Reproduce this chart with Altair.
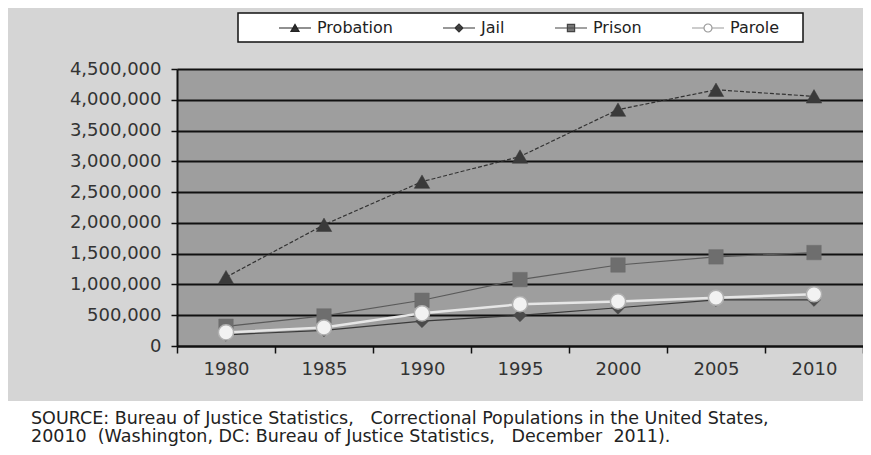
import altair as alt
import pandas as pd

# ---- data ----
years = ["1980", "1985", "1990", "1995", "2000", "2005", "2010"]
series_names = ["Probation", "Jail", "Prison", "Parole"]
probation = [1118000, 1969000, 2670000, 3078000, 3840000, 4162000, 4056000]
jail = [182000, 255000, 403000, 499000, 621000, 748000, 749000]
prison = [320000, 488000, 743000, 1079000, 1316000, 1448000, 1518000]
parole = [220000, 300000, 531000, 679000, 724000, 784000, 841000]
y_ticks = [0, 500000, 1000000, 1500000, 2000000, 2500000, 3000000, 3500000, 4000000, 4500000]
NB = "\u00a0"
source_text = ("SOURCE: Bureau of Justice Statistics," + NB * 3 + "Correctional Populations in the United States,\n"
               "20010" + NB * 2 + "(Washington, DC: Bureau of Justice Statistics," + NB * 3 + "December" + NB * 2 + "2011).")

rows = []
for name, vals in zip(series_names, [probation, jail, prison, parole]):
    for yr, v in zip(years, vals):
        rows.append({"year": yr, "series": name, "value": v})
df = pd.DataFrame(rows)

W, H = 686, 277
FONT = "DejaVu Sans"

x_enc = alt.X("year:O", sort=years,
              scale=alt.Scale(type="band", domain=years, paddingInner=0, paddingOuter=0),
              axis=alt.Axis(title=None, labelAngle=0, tickBand="extent", grid=False,
                            domainColor="#111", domainWidth=2, tickColor="#111", tickWidth=1.5,
                            tickSize=7, labelFont=FONT, labelFontSize=18, labelColor="#333",
                            labelPadding=7))
y_enc = alt.Y("value:Q", scale=alt.Scale(domain=[0, 4500000], nice=False, zero=True),
              axis=alt.Axis(title=None, values=y_ticks, labelExpr="format(datum.value, ',')",
                            grid=True, gridColor="#111",
                            gridWidth=2, domainColor="#111", domainWidth=2, tickColor="#111",
                            tickWidth=1.5, tickSize=6, labelFont=FONT, labelFontSize=18,
                            labelColor="#333", labelPadding=10))

styles = {
    "Probation": dict(line=dict(color="#333333", strokeWidth=1.2, strokeDash=[4, 2]),
                      pt=dict(shape="triangle-up", fill="#3a3a3a", stroke="#3a3a3a", size=240, strokeWidth=0.5)),
    "Jail": dict(line=dict(color="#3a3a3a", strokeWidth=1.2),
                 pt=dict(shape="diamond", fill="#4a4a4a", stroke="#4a4a4a", size=170, strokeWidth=0.5)),
    "Prison": dict(line=dict(color="#5a5a5a", strokeWidth=1.2),
                   pt=dict(shape="square", fill="#6e6e6e", stroke="#6e6e6e", size=210, strokeWidth=0.5)),
    "Parole": dict(line=dict(color="#e6e6e6", strokeWidth=2.5),
                   pt=dict(shape="circle", fill="#f2f2f2", stroke="#b0b0b0", size=230, strokeWidth=1.5)),
}

one = alt.Data(values=[{}])
white_strip = alt.Chart(one).mark_rect(color="white").encode(
    x=alt.value(-175), x2=alt.value(W + 5), y=alt.value(332), y2=alt.value(H + 120))
legend_box = alt.Chart(one).mark_rect(fill="white", stroke="#111", strokeWidth=1.5).encode(
    x=alt.value(61), x2=alt.value(626), y=alt.value(-56), y2=alt.value(-27))
source = alt.Chart(one).mark_text(align="left", baseline="alphabetic", font=FONT, fontSize=17.5,
                                  color="#222", lineBreak="\n", lineHeight=18).encode(
    x=alt.value(-146), y=alt.value(355), text=alt.value(source_text))

layers = [white_strip, legend_box]
for name in series_names:
    st = styles[name]
    base = alt.Chart(df).transform_filter(alt.datum.series == name)
    layers.append(base.mark_line(**st["line"]).encode(x=x_enc, y=y_enc))
for name in series_names:
    st = styles[name]
    base = alt.Chart(df).transform_filter(alt.datum.series == name)
    layers.append(base.mark_point(filled=True, opacity=1, **st["pt"]).encode(x=x_enc, y=y_enc))

legend_paths = [
    "M-4,0H4M-1,0.85L0,-0.9L1,0.85Z",
    "M-4,0H4M-1,0L0,-1L1,0L0,1Z",
    "M-4,0H4M-0.9,-0.9H0.9V0.9H-0.9Z",
    "M-4,0H-1M1,0H4M-1,0A1,1 0 1,0 1,0A1,1 0 1,0 -1,0Z",
]
legend_fills = ["#333333", "#444444", "#777777", "#ffffff"]
legend_strokes = ["#222222", "#333333", "#444444", "#999999"]
leg = alt.Legend(orient="none", legendX=110, legendY=-49, direction="horizontal", title=None,
                 labelFont=FONT, labelFontSize=16, labelColor="#222", symbolSize=64,
                 symbolStrokeWidth=1.2, labelOffset=14, columnPadding=47, padding=0)
legend_layer = alt.Chart(df).transform_filter("false").mark_point(filled=True, opacity=1).encode(
    x=x_enc, y=y_enc,
    shape=alt.Shape("series:N", scale=alt.Scale(domain=series_names, range=legend_paths), legend=leg),
    fill=alt.Fill("series:N", scale=alt.Scale(domain=series_names, range=legend_fills), legend=leg),
    stroke=alt.Stroke("series:N", scale=alt.Scale(domain=series_names, range=legend_strokes), legend=leg),
)
layers.append(legend_layer)
layers.append(source)

chart = alt.layer(*layers).properties(
    width=W, height=H,
    autosize=alt.AutoSizeParams(type="none"),
    padding={"left": 169, "top": 61, "right": 0, "bottom": 100},
    background="#d5d5d5",
).configure_view(fill="#9e9e9e", stroke=None)

chart.save("out.html", embed_options={"renderer": "svg", "actions": False})
